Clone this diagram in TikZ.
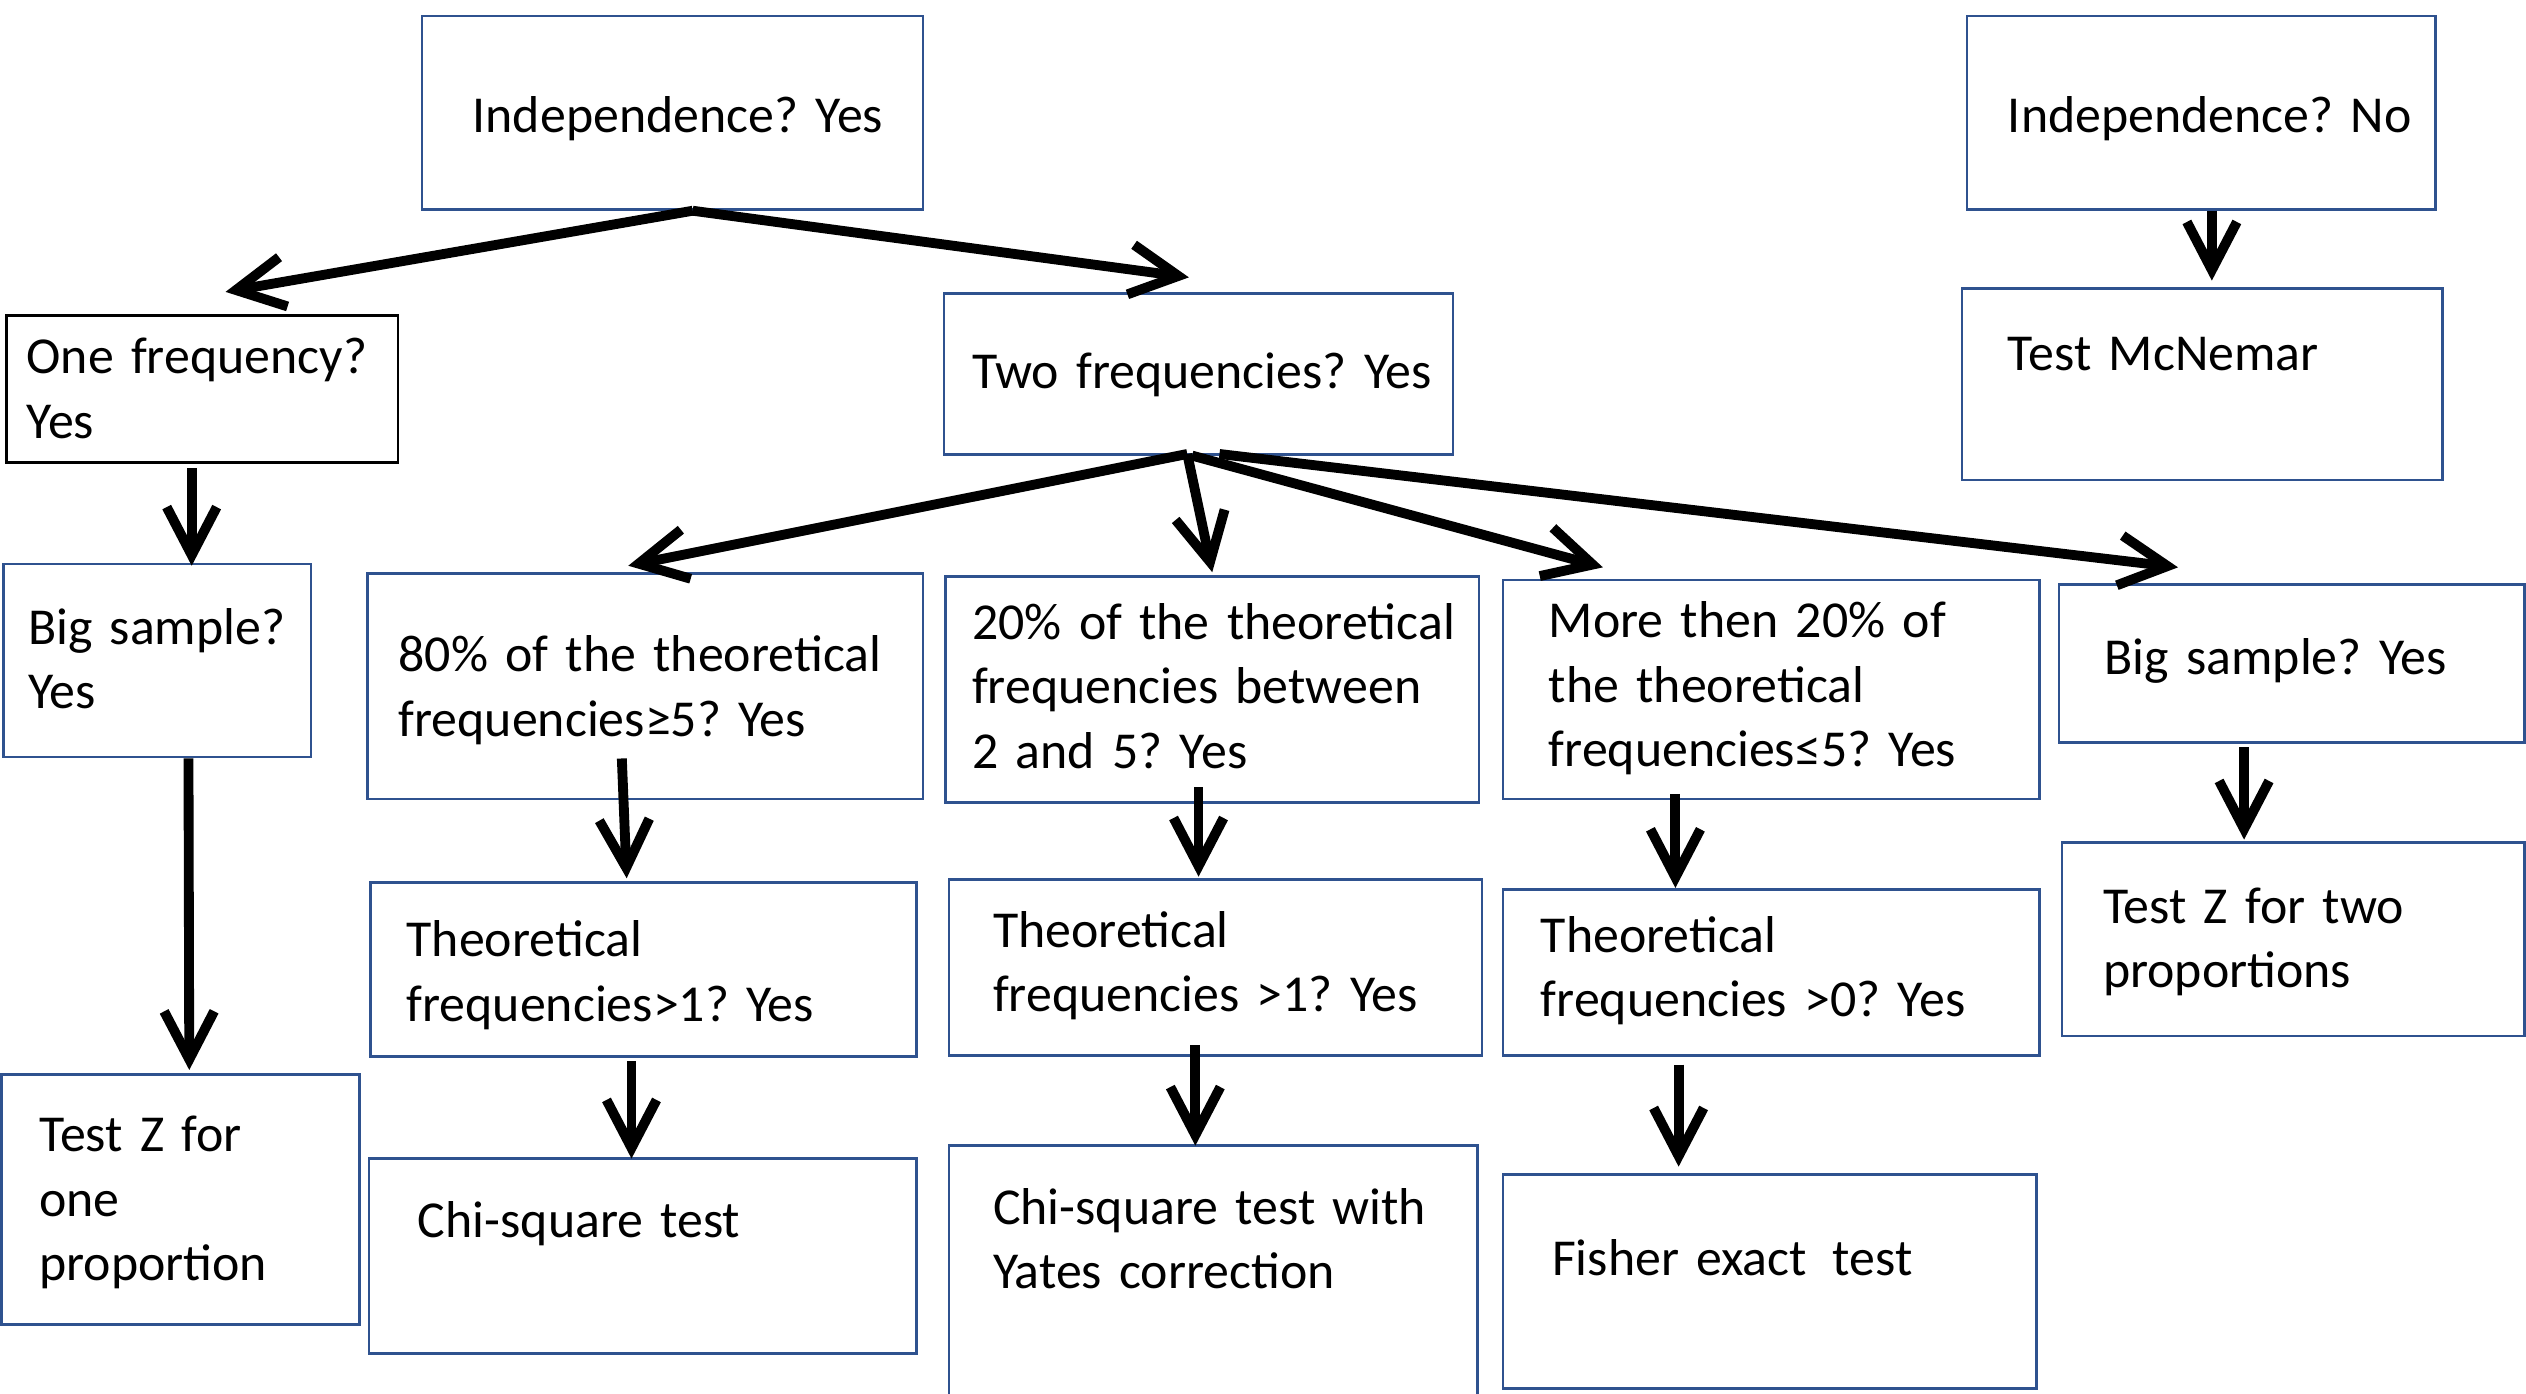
\documentclass[tikz,border=0pt]{standalone}
\usepackage{fontspec}
\setmainfont{Carlito}
\usetikzlibrary{fit}
\usetikzlibrary{arrows.meta}
\definecolor{boxblue}{HTML}{2F528F}
\tikzstyle{box}=[draw=boxblue, line width=0.75pt, inner sep=0pt]
\tikzstyle{label}=[inner sep=0pt, text width=9cm, align=left, anchor=base west, font=\fontsize{14.75}{18.3}\selectfont\frenchspacing]
\tikzstyle{arrow}=[line width=2.8pt, -{Straight Barb[length=4.8mm, width=5mm]}]

\begin{document}
\begin{tikzpicture}[x=0.1611mm, y=-0.1611mm]
          \useasboundingbox (0, 0) rectangle (1568, 865);
          % boxes
          \node[box, fit={(262, 10) (573, 130)}] (indep_yes) {};
          \node[box, fit={(1221, 10) (1512, 130)}] (indep_no) {};
          \node[box, fit={(1218, 179) (1516, 298)}] (mcnemar) {};
          \node[box, draw=black, fit={(4, 196) (247, 287)}] (one_freq) {};
          \node[box, fit={(586, 182) (902, 282)}] (two_freq) {};
          \node[box, fit={(2, 350) (193, 470)}] (big_one) {};
          \node[box, fit={(228, 356) (573, 496)}] (cond_a) {};
          \node[box, fit={(587, 358) (918, 498)}] (cond_b) {};
          \node[box, fit={(933, 360) (1266, 496)}] (cond_c) {};
          \node[box, fit={(1278, 363) (1567, 461)}] (big_two) {};
          \node[box, fit={(230, 548) (569, 656)}] (theo_a) {};
          \node[box, fit={(589, 546) (920, 655)}] (theo_b) {};
          \node[box, fit={(933, 552) (1266, 655)}] (theo_c) {};
          \node[box, fit={(1280, 523) (1567, 643)}] (z_two) {};
          \node[box, fit={(1, 667) (223, 822)}] (z_one) {};
          \node[box, fit={(229, 719) (569, 840)}] (chi) {};
          \node[box, fit={(589, 711) (917, 885)}] (yates) {};
          \node[box, fit={(933, 729) (1264, 862)}] (fisher) {};
          % texts
          \node[label] (indep_yes_t) at (293, 82) {Independence? Yes};
          \node[label] (indep_no_t) at (1246, 82) {Independence? No};
          \node[label] (mcnemar_t) at (1246, 230) {Test McNemar};
          \node[label] (one_freq_t) at (16, 232) {One frequency?\\Yes};
          \node[label] (two_freq_t) at (603, 241) {Two frequencies? Yes};
          \node[label] (big_one_t) at (17, 400) {Big sample?\\Yes};
          \node[label] (cond_a_t) at (247, 417) {80\% of the theoretical\\frequencies≥5? Yes};
          \node[label] (cond_b_t) at (603, 397) {20\% of the theoretical\\frequencies between\\2 and 5? Yes};
          \node[label] (cond_c_t) at (961, 396) {More then 20\% of\\the theoretical\\frequencies≤5? Yes};
          \node[label] (big_two_t) at (1306, 419) {Big sample? Yes};
          \node[label] (theo_a_t) at (252, 594) {Theoretical\\frequencies>1? Yes};
          \node[label] (theo_b_t) at (616, 588) {Theoretical\\frequencies >1? Yes};
          \node[label] (theo_c_t) at (956, 591) {Theoretical\\frequencies >0? Yes};
          \node[label] (z_two_t) at (1305, 573) {Test Z for two\\proportions};
          \node[label] (z_one_t) at (24, 715) {Test Z for\\one\\proportion};
          \node[label] (chi_t) at (259, 768) {Chi-square test};
          \node[label] (yates_t) at (616, 760) {Chi-square test with\\Yates correction};
          \node[label] (fisher_t) at (963, 792) {Fisher exact\,\ test};
          % arrows
          \draw[arrow] ([shift={(12.5, 0)}]indep_yes.south) -- ([shift={(14.5, -14)}]one_freq.north);
          \draw[arrow] ([shift={(12.5, 0)}]indep_yes.south) -- ([shift={(-6, -9)}]two_freq.north);
          \draw[arrow] ([shift={(-6.5, 3)}]one_freq.south) -- ([shift={(21.5, 2)}]big_one.north);
          \draw[arrow] ([shift={(19.5, 0)}]big_one.south) -- ([shift={(5.5, -2)}]z_one.north);
          \draw[arrow] ([shift={(-7, -1)}]two_freq.south) -- ([shift={(-10.5, -4)}]cond_a.north);
          \draw[arrow] ([shift={(-7, -1)}]two_freq.south) -- ([shift={(0, -2)}]cond_b.north);
          \draw[arrow] ([shift={(-4, 0)}]two_freq.south) -- ([shift={(-104.5, -7)}]cond_c.north);
          \draw[arrow] ([shift={(13, -1)}]two_freq.south) -- ([shift={(-70.5, -10)}]big_two.north);
          \draw[arrow] ([shift={(-14.5, -26)}]cond_a.south) -- ([shift={(-10.5, -2)}]theo_a.north);
          \draw[arrow] ([shift={(-7.5, 2)}]theo_a.south) -- ([shift={(-7, 1)}]chi.north);
          \draw[arrow] ([shift={(-8.5, -10)}]cond_b.south) -- ([shift={(-10.5, -1)}]theo_b.north);
          \draw[arrow] ([shift={(-12.5, -7)}]theo_b.south) -- ([shift={(-11, 1)}]yates.north);
          \draw[arrow] ([shift={(-59.5, -4)}]cond_c.south) -- ([shift={(-59.5, 0)}]theo_c.north);
          \draw[arrow] ([shift={(-57.5, 5)}]theo_c.south) -- ([shift={(-56.5, -4)}]fisher.north);
          \draw[arrow] ([shift={(6.5, 0)}]indep_no.south) -- ([shift={(6, -4)}]mcnemar.north);
          \draw[arrow] ([shift={(-29.5, 2)}]big_two.south) -- ([shift={(-30.5, -1)}]z_two.north);
        \end{tikzpicture}
\end{document}
